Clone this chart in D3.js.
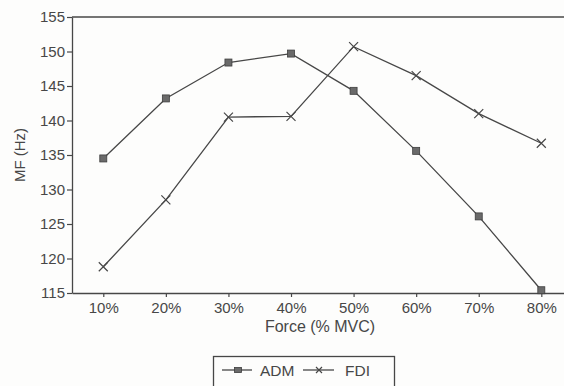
<!DOCTYPE html>
<html>
<head>
<meta charset="utf-8">
<script src="https://cdn.jsdelivr.net/npm/d3@7"></script>
<style>
  html, body { margin: 0; padding: 0; background: #fdfdfc; }
  svg { display: block; font-family: "Liberation Sans", Arial, sans-serif; }
</style>
</head>
<body>
<svg id="chart" width="564" height="386"></svg>
<script>
// Median frequency vs. contraction force for two hand muscles
const forceLevels = ["10%", "20%", "30%", "40%", "50%", "60%", "70%", "80%"];
const admValues = [134.5, 143.2, 148.4, 149.7, 144.3, 135.6, 126.1, 115.4];
const fdiValues = [118.8, 128.5, 140.5, 140.6, 150.7, 146.5, 141.0, 136.7];
const yTicks = [115, 120, 125, 130, 135, 140, 145, 150, 155];
const seriesNames = ["ADM", "FDI"];

const ink = "#474747";
const svg = d3.select("#chart");

const margin = { left: 72, top: 17, bottom: 293 };
const x = d3.scalePoint()
  .domain(forceLevels)
  .range([72, 572.6])
  .padding(0.5);
const y = d3.scaleLinear()
  .domain([115, 155])
  .range([margin.bottom, margin.top]);

// Frame: top border
svg.append("line")
  .attr("x1", 72).attr("x2", 572)
  .attr("y1", y(155)).attr("y2", y(155))
  .attr("stroke", ink).attr("stroke-width", 1.3);

// Y axis
const yAxis = svg.append("g")
  .attr("transform", `translate(${margin.left},0)`)
  .call(d3.axisLeft(y).tickValues(yTicks).tickSize(5).tickPadding(2).tickSizeOuter(0));
yAxis.select(".domain").attr("stroke", ink).attr("stroke-width", 1.3);
yAxis.selectAll(".tick line").attr("stroke", ink).attr("stroke-width", 1.2);
yAxis.selectAll("text").attr("fill", ink).attr("font-size", 15);

// X axis with short ticks
const xAxis = svg.append("g")
  .attr("transform", `translate(0,${margin.bottom})`)
  .call(d3.axisBottom(x).tickSize(4).tickPadding(5).tickSizeOuter(0));
xAxis.select(".domain").attr("stroke", ink).attr("stroke-width", 1.3);
xAxis.selectAll(".tick line").attr("stroke", ink).attr("stroke-width", 1.2);
xAxis.selectAll("text").attr("fill", ink).attr("font-size", 15);

// Axis titles
svg.append("text")
  .attr("transform", `translate(25,${(y(155) + y(115)) / 2}) rotate(-90)`)
  .attr("text-anchor", "middle")
  .attr("font-size", 15)
  .attr("fill", ink)
  .text("MF (Hz)");
svg.append("text")
  .attr("x", 320).attr("y", 332)
  .attr("text-anchor", "middle")
  .attr("font-size", 16)
  .attr("fill", ink)
  .text("Force (% MVC)");

const line = d3.line()
  .x((d, i) => x(forceLevels[i]))
  .y(d => y(d));

function squareMarker(g, cx, cy, w, h) {
  g.append("rect")
    .attr("x", cx - w / 2).attr("y", cy - h / 2)
    .attr("width", w).attr("height", h)
    .attr("fill", "#6a6a6a").attr("stroke", "#3e3e3e").attr("stroke-width", 0.8);
}
function crossMarker(g, cx, cy, r) {
  g.append("path")
    .attr("d", `M${cx - r},${cy - r}L${cx + r},${cy + r}M${cx - r},${cy + r}L${cx + r},${cy - r}`)
    .attr("stroke", ink).attr("stroke-width", 1.2).attr("fill", "none");
}

// ADM series
svg.append("path")
  .datum(admValues)
  .attr("d", line)
  .attr("fill", "none").attr("stroke", ink).attr("stroke-width", 1.3);
const admG = svg.append("g");
admValues.forEach((v, i) => squareMarker(admG, x(forceLevels[i]), y(v), 7, 7));

// FDI series
svg.append("path")
  .datum(fdiValues)
  .attr("d", line)
  .attr("fill", "none").attr("stroke", ink).attr("stroke-width", 1.3);
const fdiG = svg.append("g");
fdiValues.forEach((v, i) => crossMarker(fdiG, x(forceLevels[i]), y(v), 4.5));

// Legend
const legend = svg.append("g");
legend.append("rect")
  .attr("x", 213.5).attr("y", 356.5)
  .attr("width", 181).attr("height", 40)
  .attr("fill", "none").attr("stroke", ink).attr("stroke-width", 1.3);
legend.append("line")
  .attr("x1", 222).attr("x2", 252).attr("y1", 370).attr("y2", 370)
  .attr("stroke", ink).attr("stroke-width", 1.3);
squareMarker(legend, 238, 370, 7, 5);
legend.append("text")
  .attr("x", 260).attr("y", 375.5)
  .attr("font-size", 15.5).attr("fill", ink)
  .text(seriesNames[0]);
legend.append("line")
  .attr("x1", 303).attr("x2", 334).attr("y1", 370).attr("y2", 370)
  .attr("stroke", ink).attr("stroke-width", 1.3);
crossMarker(legend, 319, 370, 3);
legend.append("text")
  .attr("x", 345).attr("y", 375.5)
  .attr("font-size", 15.5).attr("fill", ink)
  .text(seriesNames[1]);
</script>
</body>
</html>
